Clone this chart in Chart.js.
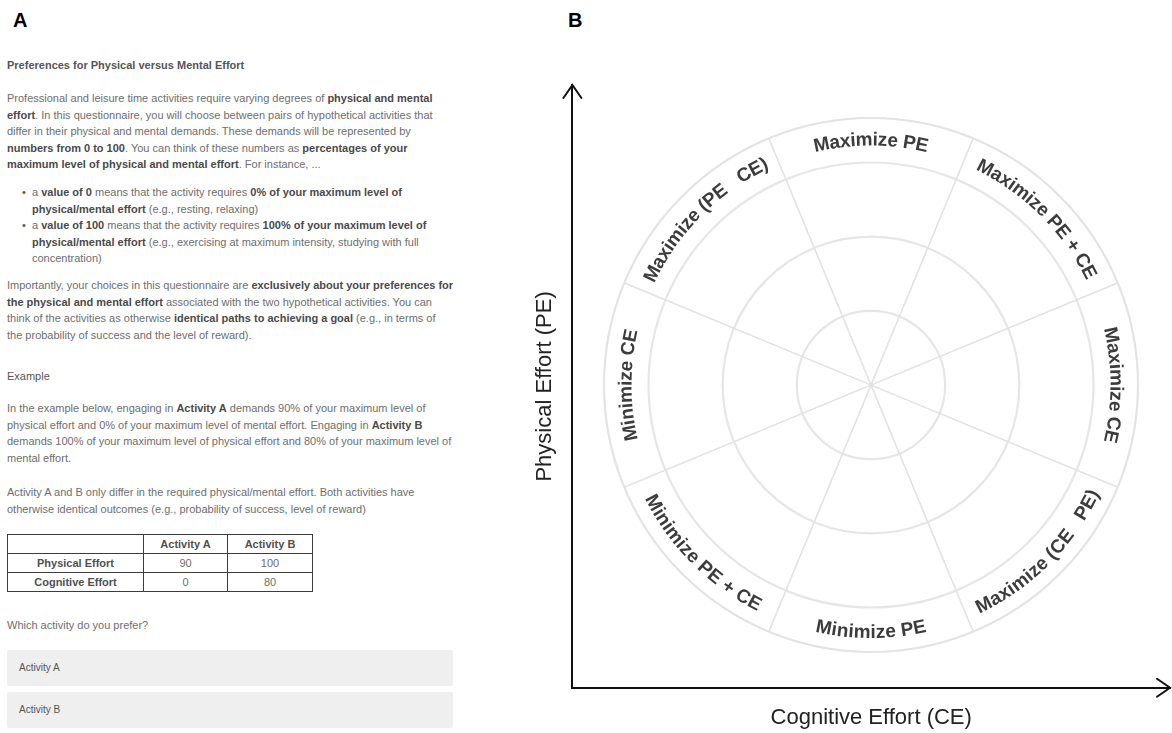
<!DOCTYPE html>
<html>
<head>
<meta charset="utf-8">
<script src="https://cdn.jsdelivr.net/npm/chart.js@4.4.1/dist/chart.umd.min.js"></script>
<style>
  html, body { margin: 0; padding: 0; background: #fff; }
  body { width: 1172px; height: 733px; position: relative; overflow: hidden; font-family: "Liberation Sans", Arial, sans-serif; }
  .tag { position: absolute; font-weight: bold; font-size: 20px; line-height: 20px; color: #000; }
  #panelA { position: absolute; left: 0; top: 0; width: 470px; height: 733px; font-size: 11px; color: #6e6e6e; }
  #panelA .blk { position: absolute; left: 7px; line-height: 16.5px; white-space: nowrap; }
  #panelA b { color: #4a4a4a; }
  #panelA .bullet { left: 32px; }
  #panelA .bullet::before { content: "\2022"; position: absolute; left: -10px; top: 0; color: #555; }
  #effortTable { position: absolute; left: 7px; top: 534px; border-collapse: collapse; table-layout: fixed; width: 305px; }
  #effortTable td { border: 1.5px solid #3c3c3c; height: 18px; padding: 0; text-align: center; font-size: 11px; line-height: 18px; color: #6e6e6e; }
  #effortTable td.hd { font-weight: bold; color: #505050; }
  .choice { position: absolute; left: 7px; width: 446px; height: 36px; background: #efefef; border-radius: 2px; font-size: 10px; line-height: 36px; color: #555; }
  .choice span { padding-left: 12px; }
  #axes { position: absolute; left: 528px; top: 60px; }
  #wheel { position: absolute; left: 591px; top: 105px; }
</style>
</head>
<body>
<div class="tag" style="left:13px; top:9.5px;">A</div>
<div class="tag" style="left:568px; top:9.5px;">B</div>

<div id="panelA">
  <div class="blk" style="top:57px;"><b style="color:#555">Preferences for Physical versus Mental Effort</b></div>
  <div class="blk" style="top:90px;">
    Professional and leisure time activities require varying degrees of <b>physical and mental</b><br>
    <b>effort</b>. In this questionnaire, you will choose between pairs of hypothetical activities that<br>
    differ in their physical and mental demands. These demands will be represented by<br>
    <b>numbers from 0 to 100</b>. You can think of these numbers as <b>percentages of your</b><br>
    <b>maximum level of physical and mental effort</b>. For instance, ...
  </div>
  <div class="blk bullet" style="top:184px;">
    a <b>value of 0</b> means that the activity requires <b>0% of your maximum level of</b><br>
    <b>physical/mental effort</b> (e.g., resting, relaxing)
  </div>
  <div class="blk bullet" style="top:217px;">
    a <b>value of 100</b> means that the activity requires <b>100% of your maximum level of</b><br>
    <b>physical/mental effort</b> (e.g., exercising at maximum intensity, studying with full<br>
    concentration)
  </div>
  <div class="blk" style="top:277px;">
    Importantly, your choices in this questionnaire are <b>exclusively about your preferences for</b><br>
    <b>the physical and mental effort</b> associated with the two hypothetical activities. You can<br>
    think of the activities as otherwise <b>identical paths to achieving a goal</b> (e.g., in terms of<br>
    the probability of success and the level of reward).
  </div>
  <div class="blk" style="top:368px; color:#555;">Example</div>
  <div class="blk" style="top:400px;">
    In the example below, engaging in <b>Activity A</b> demands 90% of your maximum level of<br>
    physical effort and 0% of your maximum level of mental effort. Engaging in <b>Activity B</b><br>
    demands 100% of your maximum level of physical effort and 80% of your maximum level of<br>
    mental effort.
  </div>
  <div class="blk" style="top:484px;">
    Activity A and B only differ in the required physical/mental effort. Both activities have<br>
    otherwise identical outcomes (e.g., probability of success, level of reward)
  </div>
  <table id="effortTable">
    <colgroup><col style="width:136px"><col style="width:84px"><col style="width:85px"></colgroup>
    <tbody></tbody>
  </table>
  <div class="blk" style="top:617px;">Which activity do you prefer?</div>
  <div class="choice" style="top:650px;"><span id="choiceA"></span></div>
  <div class="choice" style="top:692px;"><span id="choiceB"></span></div>
</div>

<canvas id="axes" width="644" height="673"></canvas>
<canvas id="wheel" width="560" height="560"></canvas>

<script>
// example table (panel A)
const activityNames = ['Activity A', 'Activity B'];
const effortRows = ['Physical Effort', 'Cognitive Effort'];
const activityA = [90, 0];
const activityB = [100, 80];

// effort wheel (panel B): 8 sectors, clockwise from the top
const sectorLabels = ['Maximize PE', 'Maximize PE + CE', 'Maximize CE', 'Maximize (CE   PE)',
                      'Minimize PE', 'Minimize PE + CE', 'Minimize CE', 'Maximize (PE   CE)'];
const sectorReach = [3.6, 3.6, 3.6, 3.6, 3.6, 3.6, 3.6, 3.6];
const ringLevels = [0, 1, 2, 3, 3.6];
const axisTitles = ['Cognitive Effort (CE)', 'Physical Effort (PE)'];

Chart.defaults.font.family = '"Liberation Sans", Arial, sans-serif';

// tabla de ejemplo
const tbody = document.querySelector('#effortTable tbody');
let html = '<tr><td></td>' + activityNames.map(n => '<td class="hd">' + n + '</td>').join('') + '</tr>';
effortRows.forEach((row, i) => {
    html += '<tr><td class="hd">' + row + '</td><td>' + activityA[i] + '</td><td>' + activityB[i] + '</td></tr>';
});
tbody.innerHTML = html;
document.getElementById('choiceA').textContent = activityNames[0];
document.getElementById('choiceB').textContent = activityNames[1];

// arrow heads at the end of both axes
const arrowPlugin = {
    id: 'arrows',
    afterDraw(chart) {
        const ctx = chart.ctx;
        const x0 = chart.scales.y.right;
        const y0 = chart.scales.x.top;
        const top = chart.chartArea.top;
        const right = chart.chartArea.right;
        ctx.save();
        ctx.strokeStyle = '#111';
        ctx.lineWidth = 2;
        ctx.lineCap = 'round';
        ctx.beginPath();
        ctx.moveTo(x0 - 9, top + 13);
        ctx.lineTo(x0, top);
        ctx.lineTo(x0 + 9, top + 13);
        ctx.moveTo(right - 13, y0 - 9);
        ctx.lineTo(right, y0);
        ctx.lineTo(right - 13, y0 + 9);
        ctx.stroke();
        ctx.restore();
    }
};

new Chart(document.getElementById('axes'), {
    type: 'scatter',
    data: { datasets: [{ data: [] }] },
    options: {
        responsive: false,
        animation: false,
        layout: { padding: { top: 25, right: 2 } },
        plugins: { legend: { display: false }, tooltip: { enabled: false } },
        scales: {
            x: {
                min: 0, max: 100,
                grid: { display: false, drawTicks: false },
                ticks: { display: false },
                border: { color: '#111', width: 2 },
                title: { display: true, text: axisTitles[0], color: '#222', font: { size: 22 }, padding: { top: 16.8, bottom: 2 } }
            },
            y: {
                min: 0, max: 100,
                grid: { display: false, drawTicks: false },
                ticks: { display: false },
                border: { color: '#111', width: 2 },
                title: { display: true, text: axisTitles[1], color: '#222', font: { size: 22 }, padding: { top: 4, bottom: 14 } }
            }
        }
    },
    plugins: [arrowPlugin]
});

// curved sector labels in the outer band
const curvedLabels = {
    id: 'curvedLabels',
    afterDatasetsDraw(chart) {
        const ctx = chart.ctx;
        const scale = chart.scales.r;
        const band = scale.getDistanceFromCenterForValue(ringLevels[3]);
        const outer = scale.getDistanceFromCenterForValue(ringLevels[4]);
        ctx.save();
        ctx.font = 'bold 19px "Liberation Sans", Arial, sans-serif';
        ctx.fillStyle = '#3c3c3c';
        ctx.textAlign = 'center';
        ctx.textBaseline = 'middle';
        chart.getDatasetMeta(0).data.forEach((arc, i) => {
            const p = arc.getProps(['x', 'y', 'startAngle', 'endAngle']);
            const mid = (p.startAngle + p.endAngle) / 2;
            const text = chart.data.labels[i];
            const inward = Math.sin(mid) > 0.3;
            const r = (band + outer) / 2 + (inward ? 3 : 0);
            const total = ctx.measureText(text).width;
            let cum = 0;
            for (const ch of text) {
                const w = ctx.measureText(ch).width;
                const a = inward ? mid + total / (2 * r) - (cum + w / 2) / r
                                 : mid - total / (2 * r) + (cum + w / 2) / r;
                ctx.save();
                ctx.translate(p.x + r * Math.cos(a), p.y + r * Math.sin(a));
                ctx.rotate(inward ? a - Math.PI / 2 : a + Math.PI / 2);
                ctx.fillText(ch, 0, 0);
                ctx.restore();
                cum += w;
            }
        });
        ctx.restore();
    }
};

new Chart(document.getElementById('wheel'), {
    type: 'polarArea',
    data: {
        labels: sectorLabels,
        datasets: [{
            data: sectorReach,
            backgroundColor: 'rgba(0,0,0,0)',
            borderColor: '#e3e3e3',
            borderWidth: 1.3
        }]
    },
    options: {
        responsive: false,
        animation: false,
        layout: { padding: 13 },
        plugins: { legend: { display: false }, tooltip: { enabled: false } },
        scales: {
            r: {
                min: 0,
                max: ringLevels[ringLevels.length - 1],
                startAngle: -22.5,
                afterBuildTicks: s => { s.ticks = ringLevels.map(v => ({ value: v })); },
                ticks: { display: false },
                grid: { circular: true, color: '#e6e6e6', lineWidth: 2.2 },
                angleLines: { display: false },
                pointLabels: { display: false }
            }
        }
    },
    plugins: [curvedLabels]
});
</script>
</body>
</html>
